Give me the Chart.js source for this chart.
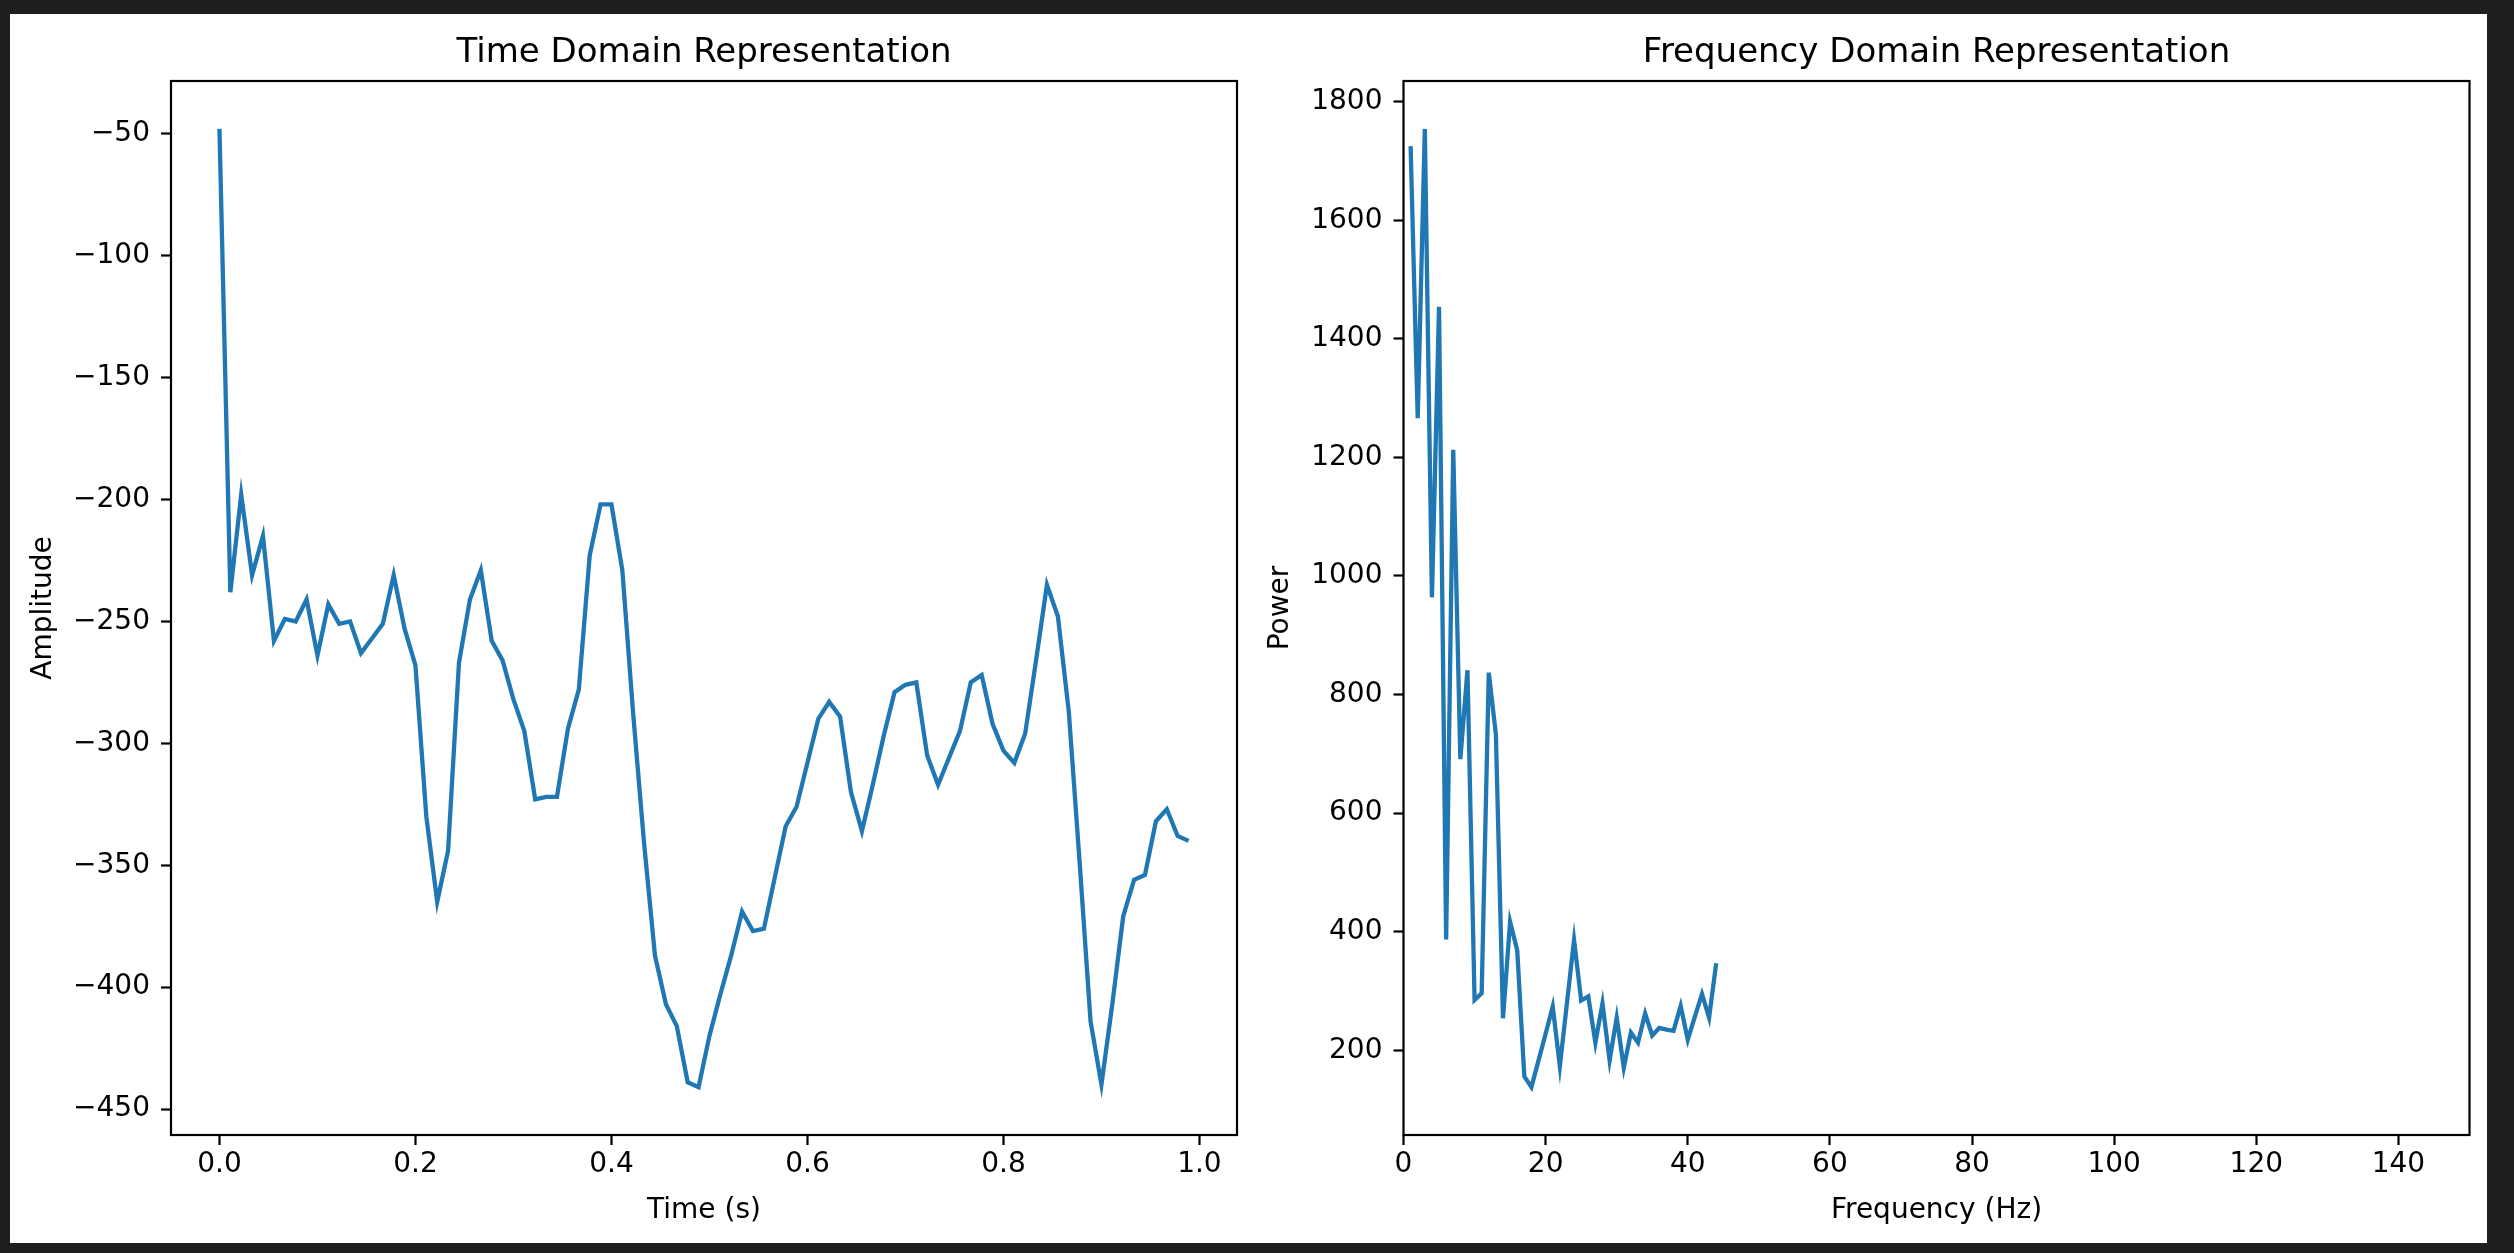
<!DOCTYPE html>
<html>
<head>
<meta charset="utf-8">
<script src="https://cdn.jsdelivr.net/npm/chart.js@4.4.1/dist/chart.umd.min.js"></script>
<style>
  html, body { margin: 0; padding: 0; background: #1e1e1e; width: 2514px; height: 1253px; overflow: hidden; }
  #paper { position: absolute; left: 10px; top: 14px; width: 2477px; height: 1229px; background: #ffffff; }
  canvas { position: absolute; left: 0; top: 0; }
</style>
</head>
<body>
<div id="paper"></div>
<canvas id="c1" width="2514" height="1253"></canvas>
<canvas id="c2" width="2514" height="1253"></canvas>
<script>
// ---- Time domain data (90 samples, fs = 90 Hz) ----
const times = [
  0.0000, 0.0111, 0.0222, 0.0333, 0.0444, 0.0556, 0.0667, 0.0778, 0.0889, 0.1000,
  0.1111, 0.1222, 0.1333, 0.1444, 0.1556, 0.1667, 0.1778, 0.1889, 0.2000, 0.2111,
  0.2222, 0.2333, 0.2444, 0.2556, 0.2667, 0.2778, 0.2889, 0.3000, 0.3111, 0.3222,
  0.3333, 0.3444, 0.3556, 0.3667, 0.3778, 0.3889, 0.4000, 0.4111, 0.4222, 0.4333,
  0.4444, 0.4556, 0.4667, 0.4778, 0.4889, 0.5000, 0.5111, 0.5222, 0.5333, 0.5444,
  0.5556, 0.5667, 0.5778, 0.5889, 0.6000, 0.6111, 0.6222, 0.6333, 0.6444, 0.6556,
  0.6667, 0.6778, 0.6889, 0.7000, 0.7111, 0.7222, 0.7333, 0.7444, 0.7556, 0.7667,
  0.7778, 0.7889, 0.8000, 0.8111, 0.8222, 0.8333, 0.8444, 0.8556, 0.8667, 0.8778,
  0.8889, 0.9000, 0.9111, 0.9222, 0.9333, 0.9444, 0.9556, 0.9667, 0.9778, 0.9889
];
const amplitude = [
  -48, -238, -198, -231, -215, -258, -249, -250, -241, -264,
  -243, -251, -250, -263, -257, -251, -231, -253, -268, -330,
  -365, -344, -267, -241, -229, -258, -266, -282, -295, -323,
  -322, -322, -294, -278, -223, -202, -202, -229, -288, -341,
  -387, -407, -416, -439, -441, -420, -403, -387, -369, -377,
  -376, -355, -334, -326, -308, -290, -283, -289, -320, -336,
  -317, -297, -279, -276, -275, -305, -317, -306, -295, -275,
  -272, -292, -303, -308, -296, -266, -235, -248, -287, -349,
  -414, -440, -407, -371, -356, -354, -332, -327, -338, -340
];
const timeTicks = [0, 0.2, 0.4, 0.6, 0.8, 1.0];
const timeTickLabels = ['0.0', '0.2', '0.4', '0.6', '0.8', '1.0'];
const ampTicks = [-450, -400, -350, -300, -250, -200, -150, -100, -50];
const ampTickLabels = ['\u2212450', '\u2212400', '\u2212350', '\u2212300', '\u2212250', '\u2212200', '\u2212150', '\u2212100', '\u221250'];

// ---- Frequency domain data ----
const freqs = [
  1, 2, 3, 4, 5, 6, 7, 8, 9, 10, 11, 12, 13, 14, 15, 16, 17, 18, 19, 20, 21, 22,
  23, 24, 25, 26, 27, 28, 29, 30, 31, 32, 33, 34, 35, 36, 37, 38, 39, 40, 41, 42, 43, 44
];
const power = [
  1725, 1266, 1754, 964, 1454, 387, 1213, 691, 841, 285, 296, 837, 733, 254, 417, 369, 156, 138, 183, 228, 274, 173,
  280, 386, 284, 291, 213, 279, 183, 255, 171, 230, 213, 262, 225, 238, 235, 233, 275, 218, 257, 295, 255, 347
];
const freqTicks = [0, 20, 40, 60, 80, 100, 120, 140];
const freqTickLabels = ['0', '20', '40', '60', '80', '100', '120', '140'];
const powTicks = [200, 400, 600, 800, 1000, 1200, 1400, 1600, 1800];
const powTickLabels = ['200', '400', '600', '800', '1000', '1200', '1400', '1600', '1800'];

const FONT = 'DejaVu Sans';
const LINE = '#1f77b4';

function margins(arr, frac) {
  const lo = Math.min(...arr), hi = Math.max(...arr);
  const pad = (hi - lo) * frac;
  return [lo - pad, hi + pad];
}

const framePlugin = {
  id: 'frame',
  afterDraw(chart) {
    const a = chart.chartArea, ctx = chart.ctx;
    ctx.save();
    ctx.strokeStyle = '#000';
    ctx.lineWidth = 2.2;
    ctx.strokeRect(a.left, a.top, a.right - a.left, a.bottom - a.top);
    ctx.restore();
  }
};

function axisCommon() {
  return {
    grid: { display: true, drawOnChartArea: false, drawTicks: true, tickLength: 10, tickWidth: 2.2, tickColor: '#000', color: '#000' },
    border: { display: false }
  };
}

function makeChart(canvasId, cfg) {
  const xs = cfg.xs, ys = cfg.ys;
  const pts = xs.map((x, i) => ({ x: x, y: ys[i] }));
  const base = axisCommon();
  return new Chart(document.getElementById(canvasId), {
    type: 'line',
    data: { datasets: [{ data: pts, borderColor: LINE, borderWidth: 4.3, pointRadius: 0, tension: 0, fill: false }] },
    plugins: [framePlugin],
    options: {
      responsive: false,
      animation: false,
      devicePixelRatio: 1,
      layout: { padding: cfg.padding },
      plugins: {
        legend: { display: false },
        tooltip: { enabled: false },
        title: {
          display: true, text: cfg.title, fullSize: false, color: '#000',
          font: { family: FONT, size: 34, weight: 'normal' },
          padding: { top: 33, bottom: 7.2 }
        }
      },
      scales: {
        x: {
          type: 'linear', position: 'bottom', min: cfg.xlim[0], max: cfg.xlim[1],
          afterBuildTicks: (s) => { s.ticks = cfg.xTicks.map(v => ({ value: v })); },
          afterFit: (s) => { s.height = 118; s.paddingLeft = 0; s.paddingRight = 0; },
          ticks: {
            autoSkip: false, maxRotation: 0, minRotation: 0, padding: 3, color: '#000',
            font: { family: FONT, size: 28 },
            callback: (v, i) => cfg.xLabels[i]
          },
          grid: base.grid, border: base.border,
          title: { display: true, text: cfg.xTitle, color: '#000', font: { family: FONT, size: 28 }, padding: { top: 0, bottom: 25 } }
        },
        y: {
          type: 'linear', position: 'left', min: cfg.ylim[0], max: cfg.ylim[1],
          afterBuildTicks: (s) => { s.ticks = cfg.yTicks.map(v => ({ value: v })); },
          afterFit: (s) => { s.width = cfg.yWidth; s.paddingTop = 0; s.paddingBottom = 0; },
          ticks: {
            autoSkip: false, padding: 11, color: '#000',
            font: { family: FONT, size: 28 },
            callback: (v, i) => cfg.yLabels[i]
          },
          grid: base.grid, border: base.border,
          title: { display: true, text: cfg.yTitle, color: '#000', font: { family: FONT, size: 28 }, padding: { top: cfg.yTitlePad, bottom: 0 } }
        }
      }
    }
  });
}

const tl = margins(times, 0.05);
const al = margins(amplitude, 0.05);
const pl = margins(power, 0.05);

makeChart('c1', {
  xs: times, ys: amplitude,
  xlim: tl, ylim: al,
  xTicks: timeTicks, xLabels: timeTickLabels,
  yTicks: ampTicks, yLabels: ampTickLabels,
  title: 'Time Domain Representation',
  xTitle: 'Time (s)', yTitle: 'Amplitude',
  padding: { left: 0, right: 1277, top: 0, bottom: 0 },
  yWidth: 171, yTitlePad: 26.5
});

makeChart('c2', {
  xs: freqs, ys: power,
  xlim: [0, 150], ylim: pl,
  xTicks: freqTicks, xLabels: freqTickLabels,
  yTicks: powTicks, yLabels: powTickLabels,
  title: 'Frequency Domain Representation',
  xTitle: 'Frequency (Hz)', yTitle: 'Power',
  padding: { left: 1223.5, right: 44.5, top: 0, bottom: 0 },
  yWidth: 180, yTitlePad: 40.7
});
</script>
</body>
</html>
